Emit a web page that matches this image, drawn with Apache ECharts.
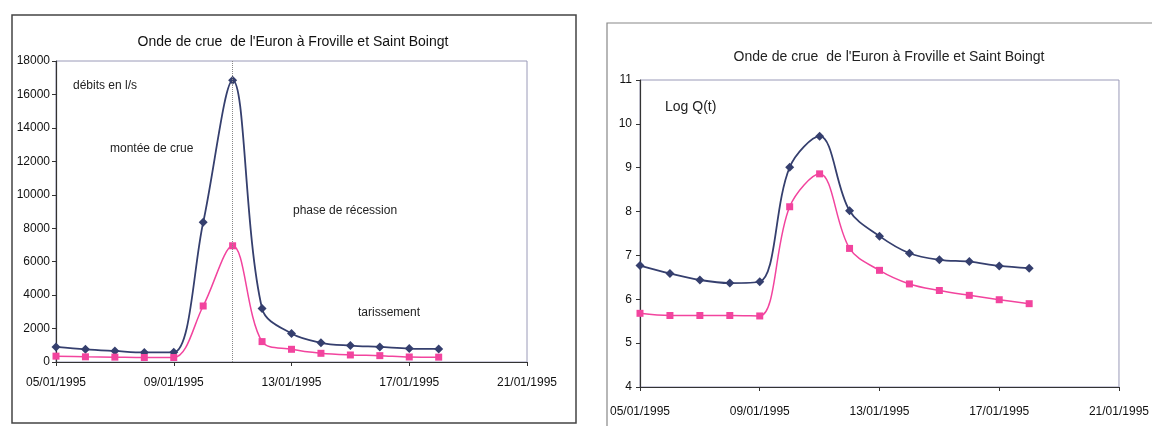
<!DOCTYPE html>
<html>
<head>
<meta charset="utf-8">
<script src="https://cdn.jsdelivr.net/npm/echarts@6/dist/echarts.min.js"></script>
<style>
html,body{margin:0;padding:0;background:#fff;}
#c{width:1152px;height:426px;}
</style>
</head>
<body>
<div id="c"></div>
<script>
// ---- data ----
var dates = ['05/01/1995','06/01/1995','07/01/1995','08/01/1995','09/01/1995','10/01/1995','11/01/1995','12/01/1995','13/01/1995','14/01/1995','15/01/1995','16/01/1995','17/01/1995','18/01/1995','19/01/1995','20/01/1995','21/01/1995'];
var title = "Onde de crue  de l'Euron à Froville et Saint Boingt";
// left chart: discharge in l/s
var flowFroville = [900, 760, 660, 570, 580, 8350, 16850, 3200, 1700, 1150, 980, 900, 800, 780];
var flowStBoingt = [350, 310, 290, 270, 270, 3350, 6950, 1220, 760, 520, 420, 380, 300, 290];
// right chart: Log Q(t)
var logFroville = [6.77, 6.59, 6.44, 6.37, 6.40, 9.01, 9.72, 8.02, 7.44, 7.05, 6.90, 6.86, 6.76, 6.71];
var logStBoingt = [5.68, 5.63, 5.63, 5.63, 5.62, 8.11, 8.86, 7.16, 6.66, 6.35, 6.20, 6.09, 5.99, 5.90];
var peakDate = '11/01/1995';

var FONT = "'Liberation Sans', Arial, sans-serif";
var NAVY = '#353f6e';
var PINK = '#f2449e';

var chart = echarts.init(document.getElementById('c'), null, {renderer:'canvas'});

function xAxisCfg(gi){
  return {
    type:'category', gridIndex:gi, data:dates, boundaryGap:false,
    axisLine:{show:true, lineStyle:{color:'#333', width:1.2}},
    axisTick:{show:true, interval:3, length:4, lineStyle:{color:'#333'}},
    axisLabel:{interval:3, color:'#111', fontFamily:FONT, fontSize:12, margin: gi===0 ? 15 : 19},
    splitLine:{show:false}
  };
}
function plain(v){ return String(v); }

chart.setOption({
  animation:false,
  title:[
    {text:title, left:288, top:30, textAlign:'center',
     textStyle:{fontFamily:FONT, fontSize:14, fontWeight:'normal', color:'#111'}},
    {text:title, left:884, top:45, textAlign:'center',
     textStyle:{fontFamily:FONT, fontSize:14, fontWeight:'normal', color:'#222'}}
  ],
  grid:[
    {left:56, top:61, width:471, height:301, show:true, borderColor:'#9a9ab8', borderWidth:1, backgroundColor:'transparent'},
    {left:640, top:80, width:485, height:307, show:true, borderColor:'#9a9ab8', borderWidth:1, backgroundColor:'transparent'}
  ],
  xAxis:[xAxisCfg(0), xAxisCfg(1)],
  yAxis:[
    {type:'value', gridIndex:0, min:0, max:18000, interval:2000,
     axisLine:{show:true, lineStyle:{color:'#333', width:1.2}},
     axisTick:{show:true, length:4, lineStyle:{color:'#333'}},
     axisLabel:{color:'#111', fontFamily:FONT, fontSize:12, margin:6, formatter:plain},
     splitLine:{show:false}},
    {type:'value', gridIndex:1, min:4, max:11, interval:1,
     axisLine:{show:true, lineStyle:{color:'#333', width:1.2}},
     axisTick:{show:true, length:4, lineStyle:{color:'#333'}},
     axisLabel:{color:'#111', fontFamily:FONT, fontSize:12, margin:8, formatter:plain},
     splitLine:{show:false}}
  ],
  series:[
    {name:'Froville', type:'line', xAxisIndex:0, yAxisIndex:0, data:flowFroville, smooth:0.35,
     symbol:'diamond', symbolSize:9, lineStyle:{color:NAVY, width:1.8}, itemStyle:{color:NAVY},
     markLine:{silent:true, symbol:'none', label:{show:false},
       lineStyle:{color:'#888', type:'dotted', width:1},
       data:[{xAxis:peakDate}]}},
    {name:'Saint Boingt', type:'line', xAxisIndex:0, yAxisIndex:0, data:flowStBoingt, smooth:0.35,
     symbol:'rect', symbolSize:7, lineStyle:{color:PINK, width:1.5}, itemStyle:{color:PINK}},
    {name:'Froville', type:'line', xAxisIndex:1, yAxisIndex:1, data:logFroville, smooth:0.35,
     symbol:'diamond', symbolSize:9, lineStyle:{color:NAVY, width:1.8}, itemStyle:{color:NAVY}},
    {name:'Saint Boingt', type:'line', xAxisIndex:1, yAxisIndex:1, data:logStBoingt, smooth:0.35,
     symbol:'rect', symbolSize:7, lineStyle:{color:PINK, width:1.5}, itemStyle:{color:PINK}}
  ],
  graphic:[
    {type:'rect', shape:{x:12, y:15, width:564, height:408}, style:{fill:'none', stroke:'#444', lineWidth:1.5}, z:-1},
    {type:'rect', shape:{x:607, y:23, width:600, height:450}, style:{fill:'none', stroke:'#888', lineWidth:1.2}, z:-1},
    {type:'text', left:73, top:80, style:{text:'débits en l/s', font:'12px '+FONT, fill:'#222'}},
    {type:'text', left:110, top:143, style:{text:'montée de crue', font:'12px '+FONT, fill:'#222'}},
    {type:'text', left:293, top:205, style:{text:'phase de récession', font:'12px '+FONT, fill:'#222'}},
    {type:'text', left:358, top:307, style:{text:'tarissement', font:'12px '+FONT, fill:'#222'}},
    {type:'text', left:665, top:100, style:{text:'Log Q(t)', font:'14px '+FONT, fill:'#222'}}
  ]
});
</script>
</body>
</html>
